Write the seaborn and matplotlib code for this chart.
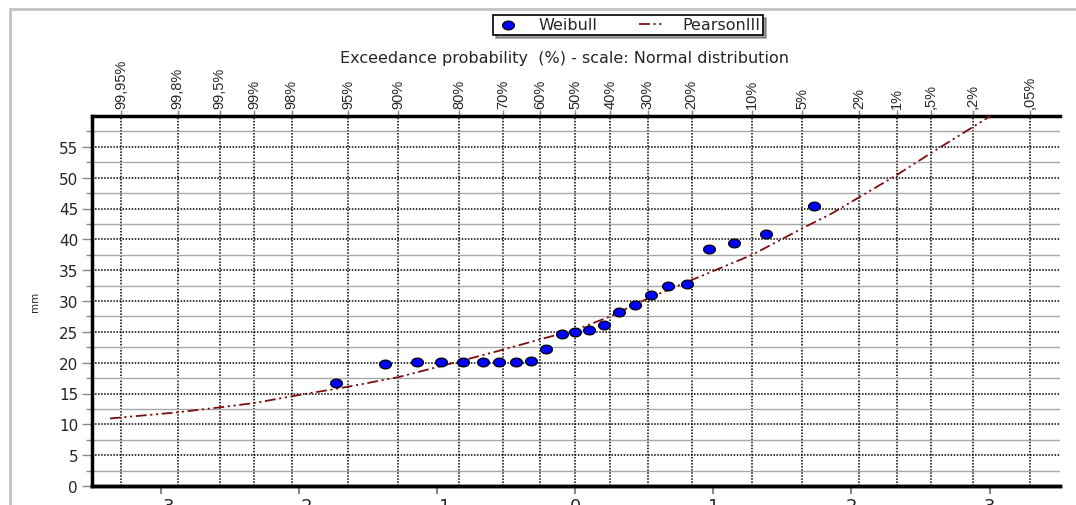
import numpy as np
import matplotlib
matplotlib.use("Agg")
import matplotlib.pyplot as plt
import seaborn as sns
from statistics import NormalDist
from matplotlib.path import Path
from matplotlib.lines import Line2D

# ---------------- data ----------------
weibull_z = [-1.73, -1.38, -1.15, -0.97, -0.81, -0.67, -0.55, -0.43, -0.32, -0.21, -0.10,
             0.00, 0.10, 0.21, 0.32, 0.43, 0.55, 0.67, 0.81, 0.97, 1.15, 1.38, 1.73]
weibull_mm = [16.7, 19.8, 20.1, 20.1, 20.1, 20.1, 20.1, 20.1, 20.3, 22.2, 24.7,
              24.9, 25.3, 26.1, 28.2, 29.3, 30.9, 32.4, 32.8, 38.4, 39.4, 40.9, 45.4]
pearson_z = [-3.37, -2.878, -2.576, -2.326, -2.054, -1.645, -1.282, -0.842, -0.524, -0.253, 0.0,
             0.253, 0.524, 0.842, 1.282, 1.645, 1.85, 2.054, 2.326, 2.576, 2.878, 3.29]
pearson_mm = [10.95, 11.95, 12.75, 13.45, 14.55, 16.1, 17.65, 20.2, 22.1, 23.8, 25.3,
              27.5, 30.4, 33.4, 37.5, 41.8, 44.1, 46.8, 50.4, 54.0, 58.2, 64.0]
exceed_pct = [99.95, 99.8, 99.5, 99, 98, 95, 90, 80, 70, 60, 50, 40, 30, 20, 10, 5, 2, 1, 0.5, 0.2, 0.05]
exceed_labels = ['99,95%', '99,8%', '99,5%', '99%', '98%', '95%', '90%', '80%', '70%', '60%',
                 '50%', '40%', '30%', '20%', '10%', '5%', '2%', '1%', ',5%', ',2%', ',05%']
z_ticks = [-3, -2, -1, 0, 1, 2, 3]
mm_ticks = [0, 5, 10, 15, 20, 25, 30, 35, 40, 45, 50, 55]
mm_minor = [2.5, 7.5, 12.5, 17.5, 22.5, 27.5, 32.5, 37.5, 42.5, 47.5, 52.5, 57.5]
title_text = "Exceedance probability  (%) - scale: Normal distribution"

# ---------------- style ----------------
sns.set_style("white")
plt.rcParams["font.family"] = ["DejaVu Sans"]

W, H = 1076, 506
fig = plt.figure(figsize=(W / 100, H / 100), dpi=100)
fig.patch.set_facecolor("white")
ax = fig.add_axes([92 / W, 1 - 487 / H, (1060 - 92) / W, (487 - 117) / H])
ax.set_facecolor("white")

# outer grey frame lines
fig.add_artist(Line2D([10 / W, 1.0], [1 - 10 / H, 1 - 10 / H], transform=fig.transFigure,
                      color="#c4c4c4", lw=2))
fig.add_artist(Line2D([10 / W, 10 / W], [0, 1 - 10 / H], transform=fig.transFigure,
                      color="#c4c4c4", lw=2))

# ellipse marker
t = np.linspace(0, 2 * np.pi, 60)
ell = Path(np.column_stack([np.cos(t), 0.74 * np.sin(t)]))

sns.lineplot(x=pearson_z, y=pearson_mm, ax=ax, color="#7a1010", lw=1.3,
             sort=False, estimator=None, label="PearsonIII", zorder=4)
pl = ax.lines[-1]
pl.set_dashes([6, 2, 1.2, 2, 1.2, 2])
sns.scatterplot(x=weibull_z, y=weibull_mm, ax=ax, marker=ell, s=72, color="#0000ff",
                edgecolor="black", linewidth=0.9, label="Weibull", zorder=5)

ax.set_xlim(-3.5, 3.51)
ax.set_ylim(0, 60)

# probability ticks on top (main x axis)
prob_pos = [-NormalDist().inv_cdf(p / 100) for p in exceed_pct]
ax.xaxis.tick_top()
ax.set_xticks(prob_pos)
ax.set_xticklabels(exceed_labels, rotation=90, fontsize=10.5, family=["Liberation Sans"])
ax.tick_params(axis="x", which="major", length=4, width=1, color="#888888", pad=2,
               top=True, bottom=False)
for lab in ax.get_xticklabels():
    lab.set_verticalalignment("bottom")

# y axis
ax.set_yticks(mm_ticks)
ax.set_yticklabels([str(v) for v in mm_ticks], fontsize=11)
ax.set_yticks(mm_minor, minor=True)
ax.tick_params(axis="y", which="major", length=7, width=1, color="#888888", pad=3, left=True)
ax.tick_params(axis="y", which="minor", length=4, width=1, color="#888888", left=True)

# grids
ax.grid(False)
ax.xaxis.grid(True, which="major", color="black", lw=1.1, linestyle=(0, (1, 1)), zorder=1)
ax.yaxis.grid(True, which="major", color="black", lw=1.1, linestyle=(0, (1, 1)), zorder=1)
ax.yaxis.grid(True, which="minor", color="#a8a8a8", lw=1.0, linestyle="-", zorder=1)
ax.set_axisbelow(True)

# bottom axis with standard normal variate
sec = ax.secondary_xaxis("bottom")
sec.set_xticks(z_ticks)
sec.set_xticklabels([f"{v}".replace("-", "\u2212") for v in z_ticks], fontsize=13)
sec.tick_params(axis="x", length=6, width=1.5, color="#888888", pad=2)
sec.spines["bottom"].set_linewidth(2.5)
sec.spines["bottom"].set_color("black")

for side in ["left", "top", "bottom"]:
    ax.spines[side].set_visible(True)
    ax.spines[side].set_color("black")
    ax.spines[side].set_linewidth(2.5)
ax.spines["right"].set_visible(False)

ax.set_xlabel("")
ax.set_ylabel("mm", fontsize=7.5)
ax.yaxis.set_label_coords((40 - 92) / (1060 - 92), 0.5)

fig.text(564 / W, 1 - 58 / H, title_text, ha="center", va="center", fontsize=11.5)

handles, labels = ax.get_legend_handles_labels()
order = [labels.index("Weibull"), labels.index("PearsonIII")]
if ax.get_legend() is not None:
    ax.get_legend().remove()
leg = fig.legend([handles[i] for i in order], [labels[i] for i in order],
                 loc="center", bbox_to_anchor=(628 / W, 1 - 26 / H), ncol=2,
                 frameon=True, fancybox=False, shadow=True, edgecolor="black",
                 fontsize=11.5, borderpad=0.15, handlelength=1.6, handletextpad=1.1,
                 columnspacing=2.6, borderaxespad=0)
leg.get_frame().set_linewidth(1.2)

fig.savefig("out.png", dpi=100, facecolor="white")
